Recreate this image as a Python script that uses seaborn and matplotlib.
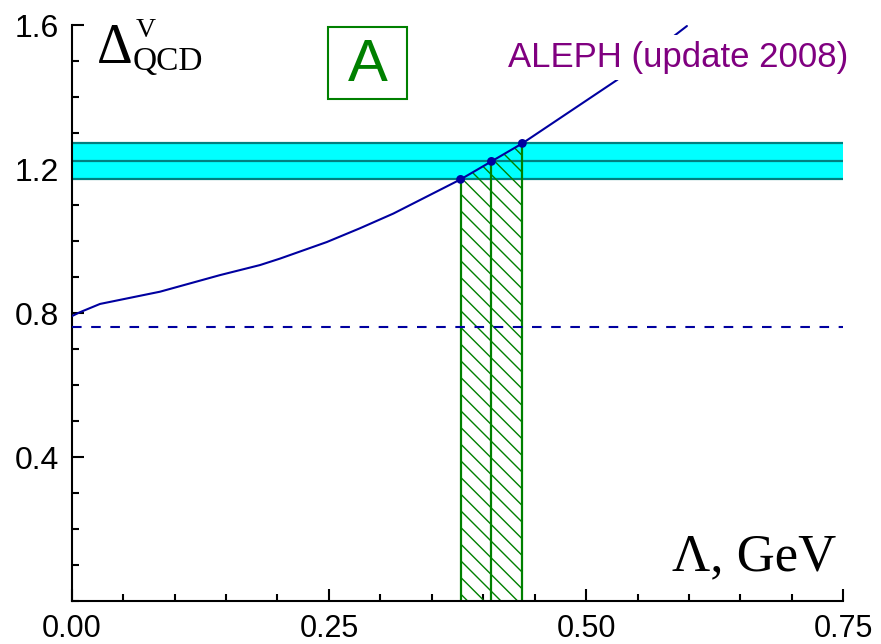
import matplotlib
matplotlib.use('Agg')
import matplotlib.pyplot as plt
from matplotlib.patches import Rectangle
from matplotlib.ticker import MultipleLocator
import seaborn as sns
import numpy as np
import pandas as pd

# curve Delta_QCD^V(Lambda)
lam = [0.0, 0.008, 0.0275, 0.0858, 0.144, 0.183, 0.2025, 0.248, 0.280, 0.3126,
       0.378, 0.408, 0.438, 0.530, 0.598]
delta = [0.792, 0.803, 0.826, 0.860, 0.906, 0.934, 0.952, 0.998, 1.036, 1.077,
         1.172, 1.222, 1.272, 1.448, 1.598]

# ALEPH band and the points where the curve crosses it
aleph_center = 1.222
aleph_err = 0.05
lam_pts = [0.378, 0.408, 0.438]
delta_pts = [1.172, 1.222, 1.272]

# dashed level
delta_level = 0.763

xticks = [0.0, 0.25, 0.50, 0.75]
xticklabels = ['0.00', '0.25', '0.50', '0.75']
yticks = [0.4, 0.8, 1.2, 1.6]
yticklabels = ['0.4', '0.8', '1.2', '1.6']

blue = '#0000a0'
green = '#008000'
teal = '#007f7f'

sns.set_style('ticks')
plt.rcParams['font.family'] = ['Liberation Sans', 'DejaVu Sans']
plt.rcParams['text.color'] = 'black'
plt.rcParams['xtick.color'] = 'black'
plt.rcParams['ytick.color'] = 'black'
plt.rcParams['hatch.color'] = green
plt.rcParams['hatch.linewidth'] = 1.0

fig = plt.figure(figsize=(8.81, 6.44), dpi=100)
ax = fig.add_axes([0.0814, 0.0663, 0.8758, 0.8944])

# ALEPH band
ax.axhspan(aleph_center - aleph_err, aleph_center + aleph_err, color='#00ffff', lw=0, zorder=1)
for yy in [aleph_center - aleph_err, aleph_center, aleph_center + aleph_err]:
    ax.axhline(yy, color=teal, lw=1.6, zorder=1.5)

# hatched region under the curve
ax.fill_between(lam_pts, 0, delta_pts, facecolor='none', edgecolor=green,
                hatch='\\\\', linewidth=0, zorder=2)
ax.vlines(lam_pts, 0, delta_pts, color=green, lw=1.6, zorder=2.5)

# dashed level
ax.axhline(delta_level, color=blue, lw=1.5, dashes=(4.6, 4.6), zorder=3)

curve = pd.DataFrame({'lam': lam, 'delta': delta})
sns.lineplot(data=curve, x='lam', y='delta', color=blue, lw=1.5, ax=ax, zorder=4)
pts = pd.DataFrame({'lam': lam_pts, 'delta': delta_pts})
sns.scatterplot(data=pts, x='lam', y='delta', color=blue, s=40, edgecolor='none', ax=ax, zorder=5)

ax.set_xlim(0, 0.75)
ax.set_ylim(0, 1.6)
ax.set_xlabel('')
ax.set_ylabel('')
ax.set_xticks(xticks)
ax.set_xticklabels(xticklabels)
ax.set_yticks(yticks)
ax.set_yticklabels(yticklabels)
ax.xaxis.set_minor_locator(MultipleLocator(0.05))
ax.yaxis.set_minor_locator(MultipleLocator(0.1))
ax.tick_params(which='major', direction='in', length=8.5, width=1.5)
ax.tick_params(which='minor', direction='in', length=4.8, width=1.5)
ax.tick_params(axis='x', which='major', pad=9, labelsize=22)
ax.tick_params(axis='y', which='major', pad=9, labelsize=23)
sns.despine(ax=ax)
for s in ['left', 'bottom']:
    ax.spines[s].set_linewidth(1.5)
    ax.spines[s].set_color('black')

# labels
serif = ['Liberation Serif', 'DejaVu Serif']
ax.text(0.0328, 0.9345, '\u0394', family=serif, fontsize=40, transform=ax.transAxes, va='baseline')
ax.text(0.083, 0.980, 'V', family=serif, fontsize=20, transform=ax.transAxes, va='baseline')
ax.text(0.0794, 0.9224, 'QCD', family=serif, fontsize=24, transform=ax.transAxes, va='baseline')
ax.text(0.9914, 0.0543, '\u039b, GeV', family=serif, fontsize=38, transform=ax.transAxes,
        ha='right', va='baseline')

ax.text(0.3834, 0.9033, 'A', color=green, fontsize=43, transform=ax.transAxes,
        ha='center', va='baseline')
ax.add_patch(Rectangle((0.3322, 0.872), 0.1024, 0.125, transform=ax.transAxes,
                       fill=False, edgecolor=green, lw=1.5, clip_on=False))

ax.text(0.5655, 0.9276, 'ALEPH (update 2008)', color='#800080', fontsize=25,
        transform=ax.transAxes, va='baseline', zorder=6,
        bbox=dict(facecolor='white', edgecolor='none', pad=4))

fig.savefig('out.png', dpi=100)
